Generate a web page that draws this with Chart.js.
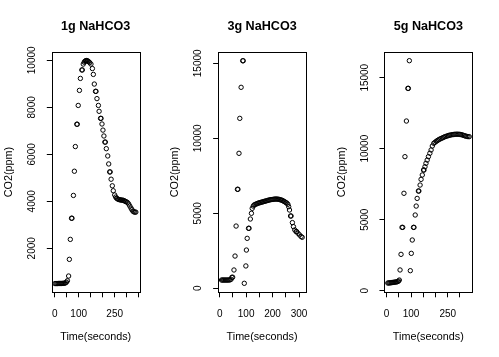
<!DOCTYPE html>
<html><head><meta charset="utf-8">
<script src="https://cdn.jsdelivr.net/npm/chart.js@4.4.1/dist/chart.umd.min.js"></script>
<style>
html,body{margin:0;padding:0;background:#fff;}
#wrap{position:relative;width:499px;height:357px;overflow:hidden;background:#fff;}
canvas{position:absolute;left:0;top:0;}
</style></head><body>
<div id="wrap">
<canvas id="c0" width="499" height="357" style="width:499px;height:357px"></canvas>
<canvas id="c1" width="499" height="357" style="width:499px;height:357px"></canvas>
<canvas id="c2" width="499" height="357" style="width:499px;height:357px"></canvas>
</div>
<script>
// ---- data ----
const titles = ['1g NaHCO3', '3g NaHCO3', '5g NaHCO3'];
const xTitle = 'Time(seconds)';
const yTitle = 'CO2(ppm)';

const time1 = [1,5,9,13,17,21,25,29,33,37,41,45,49,53,58,61,65,70,72,78,82,86,92,94,98,103,107,113,115,119,123,126,129,132,135,138,142,146,151,157,161,165,170,172,176,182,185,191,193,197,201,205,209,211,215,221,225,229,231,235,240,244,250,254,258,262,266,270,274,278,282,286,290,294,298,303,308,313,318,322,326,330,334,338];
const co2_1 = [500,500,500,500,505,505,505,505,510,510,515,530,560,620,820,1530,2380,3280,3280,4250,5280,6330,7280,7280,8080,8720,9230,9590,9590,9840,9920,9960,9980,9990,9985,9970,9940,9900,9840,9650,9400,8990,8680,8680,8370,8080,7830,7530,7530,7290,7030,6780,6520,6520,6240,5930,5590,5250,5250,4940,4660,4450,4270,4180,4130,4100,4080,4070,4060,4050,4050,4040,4020,4000,3980,3950,3890,3800,3710,3640,3580,3550,3540,3540];

const time3 = [7,11,15,19,23,27,31,35,39,43,46,49,54,58,62,67,69,73,76,81,87,89,93,99,101,104,109,111,116,120,123,127,130,134,138,142,146,150,154,158,162,166,170,174,178,182,186,190,194,198,202,206,210,214,218,222,226,230,234,238,242,246,250,254,258,261,264,268,270,275,279,284,289,291,296,302,308,312];
const co2_3 = [550,550,550,550,550,550,550,555,560,600,730,740,1220,2150,4150,6600,6600,9000,11330,13400,15170,15170,333,1490,2550,3330,4000,4000,4620,5000,5330,5480,5550,5590,5620,5650,5680,5700,5720,5740,5760,5780,5800,5820,5840,5860,5880,5900,5910,5920,5930,5940,5950,5950,5945,5935,5920,5900,5880,5850,5810,5770,5720,5680,5600,5440,5220,4820,4820,4380,4110,3890,3780,3780,3670,3560,3450,3400];

const time5 = [5,9,13,17,21,25,29,33,37,41,45,49,52,55,59,63,66,71,75,81,87,89,93,97,101,105,110,112,117,121,125,130,132,137,141,146,151,153,157,161,166,171,177,182,187,193,198,203,208,213,218,223,228,233,238,243,248,253,258,263,268,273,278,283,288,293,298,303,308,313,318,323,328,333,338];
const co2_5 = [540,545,550,560,570,580,590,600,610,620,640,680,750,1460,2560,4460,4460,6860,9440,11950,14250,14250,16200,1410,2630,3570,4460,4460,5330,5960,6500,7020,7020,7440,7840,8150,8500,8500,8730,8970,9200,9440,9680,9910,10190,10380,10450,10520,10580,10630,10680,10720,10760,10800,10840,10870,10900,10930,10950,10970,10990,11000,11010,11020,11020,11020,11010,11000,10980,10950,10920,10890,10870,10850,10850];

const xTicks1 = [0,50,100,150,200,250,300,350];
const xLabels1 = ['0','','100','','','250','',''];
const xTicks3 = [0,50,100,150,200,250,300];
const xLabels3 = ['0','','100','','200','','300'];
const xTicks5 = [0,50,100,150,200,250,300];
const xLabels5 = ['0','','100','','','250',''];
const yTicks1 = [2000,4000,6000,8000,10000];
const yLabels1 = ['2000','4000','6000','8000','10000'];
const yTicks3 = [0,5000,10000,15000];
const yLabels3 = ['0','5000','10000','15000'];
const yTicks5 = [0,5000,10000,15000];
const yLabels5 = ['0','5000','10000','15000'];

// axis ranges (R-style padded limits)
const xRange1 = [-12.1, 353.7], yRange1 = [128, 10366];
const xRange3 = [-5.9, 326.2], yRange3 = [-267, 15773];
const xRange5 = [-8.7, 350.4], yRange5 = [-113, 16831];

// ---- drawing ----
const FONT = '"Liberation Sans", Arial, Helvetica, sans-serif';
Chart.defaults.font.family = FONT;
Chart.defaults.color = '#000';

const mctx = document.createElement('canvas').getContext('2d');
mctx.font = '10px ' + FONT;

const boxPlugin = {
  id: 'rbox',
  afterDraw(chart) {
    const {ctx, chartArea: a} = chart;
    ctx.save();
    ctx.strokeStyle = '#000';
    ctx.lineWidth = 1;
    const l = Math.round(a.left), t = Math.round(a.top), r = Math.round(a.right), b = Math.round(a.bottom);
    ctx.strokeRect(l + 0.5, t + 0.5, r - l, b - t);
    ctx.restore();
  }
};

function panel(i, title, xs, ys, xT, xL, yT, yL, xr, yr) {
  const off = i * 499 / 3;
  const boxL = off + 51.8, boxR = off + 139.6, boxB = 292.3;
  const yW = 50;
  let widest = 0;
  yL.forEach(s => { widest = Math.max(widest, mctx.measureText(s).width); });
  const yPad = 19.5 - 5 - widest / 2;
  new Chart(document.getElementById('c' + i), {
    type: 'scatter',
    data: { datasets: [{
      data: xs.map((x, k) => ({x: x, y: ys[k]})),
      pointStyle: 'circle', pointRadius: 2.2, pointHoverRadius: 2.2,
      borderColor: '#000', backgroundColor: 'rgba(0,0,0,0)', borderWidth: 1,
      showLine: false
    }]},
    options: {
      responsive: false, animation: false, devicePixelRatio: 1,
      events: [],
      layout: { padding: { left: boxL - yW, right: 499 - boxR, top: 0, bottom: 0 } },
      plugins: {
        legend: { display: false }, tooltip: { enabled: false },
        title: { display: true, text: title, fullSize: false, color: '#000',
          font: { size: 12.6, weight: 'bold' }, padding: { top: 19.4, bottom: 17.2 } }
      },
      scales: {
        x: {
          type: 'linear', position: 'bottom', min: xr[0], max: xr[1],
          afterBuildTicks: s => { s.ticks = xT.map(v => ({value: v})); },
          afterFit: s => { s.height = 357 - boxB; },
          ticks: { autoSkip: false, maxRotation: 0, minRotation: 0, color: '#000', font: { size: 10 }, padding: 10.7,
            callback: v => { const k = xT.indexOf(v); return k >= 0 ? xL[k] : ''; } },
          grid: { drawOnChartArea: false, drawTicks: true, tickLength: 5, tickColor: '#000', tickWidth: 1 },
          border: { display: false },
          title: { display: true, text: xTitle, color: '#000', font: { size: 10.8 }, padding: { top: 0, bottom: 13.5 } }
        },
        y: {
          type: 'linear', position: 'left', min: yr[0], max: yr[1],
          afterBuildTicks: s => { s.ticks = yT.map(v => ({value: v})); },
          afterFit: s => { s.width = yW; },
          ticks: { autoSkip: false, minRotation: 90, maxRotation: 90, crossAlign: 'center', color: '#000', font: { size: 10 }, padding: yPad,
            callback: v => { const k = yT.indexOf(v); return k >= 0 ? yL[k] : ''; } },
          grid: { drawOnChartArea: false, drawTicks: true, tickLength: 5, tickColor: '#000', tickWidth: 1 },
          border: { display: false },
          title: { display: true, text: yTitle, color: '#000', font: { size: 10.8 }, padding: { top: 0.8, bottom: 0 } }
        }
      }
    },
    plugins: [boxPlugin]
  });
}

panel(0, titles[0], time1, co2_1, xTicks1, xLabels1, yTicks1, yLabels1, xRange1, yRange1);
panel(1, titles[1], time3, co2_3, xTicks3, xLabels3, yTicks3, yLabels3, xRange3, yRange3);
panel(2, titles[2], time5, co2_5, xTicks5, xLabels5, yTicks5, yLabels5, xRange5, yRange5);
</script>
</body></html>
